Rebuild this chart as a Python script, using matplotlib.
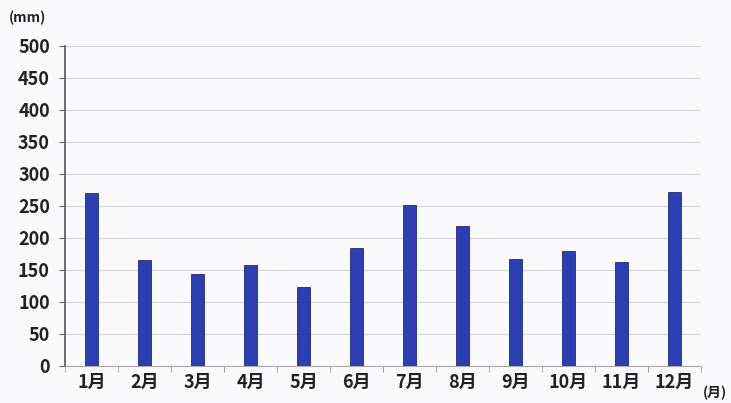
import numpy as np
import matplotlib.pyplot as plt

plt.rcParams['font.family'] = ['Noto Sans CJK JP', 'DejaVu Sans']

# monthly precipitation (mm)
months = ['1月', '2月', '3月', '4月', '5月', '6月', '7月', '8月', '9月', '10月', '11月', '12月']
rain = [270, 166, 144, 158, 123, 184, 252, 219, 167, 180, 162, 272]
yticks = list(range(0, 501, 50))

fig = plt.figure(figsize=(7.31, 4.03), dpi=100)
fig.patch.set_facecolor('#fafafc')
ax = fig.add_axes([0.089, 0.092, 0.870, 0.794])
ax.set_facecolor('#fafafc')

x = np.arange(len(months))
ax.bar(x, rain, width=0.26, color='#2b3fb3', edgecolor='#1d2a80', linewidth=0.6, zorder=3)

ax.set_xlim(-0.5, len(months) - 0.5)
ax.set_ylim(0, 500)
ax.set_yticks(yticks)
ax.set_yticklabels([str(v) for v in yticks], fontsize=13, fontweight='bold', color='#222222')
ax.yaxis.grid(True, color='#d4d4dc', linewidth=0.8, zorder=0)

ax.set_xticks(x)
ax.set_xticklabels(months, fontsize=13, fontweight='bold', color='#222222')
ax.set_xticks(np.arange(-0.5, len(months)), minor=True)
ax.tick_params(axis='x', which='major', length=0, pad=5)
ax.tick_params(axis='x', which='minor', length=4, color='#999999')
ax.tick_params(axis='y', length=4, color='#666666', pad=7)

for s in ['top', 'right']:
    ax.spines[s].set_visible(False)
ax.spines['left'].set_color('#555555')
ax.spines['left'].set_linewidth(1.2)
ax.spines['bottom'].set_color('#aaaaaa')

fig.text(0.012, 0.955, '(mm)', fontsize=10, fontweight='bold', color='#222222', va='center')
fig.text(0.962, 0.025, '(月)', fontsize=10, fontweight='bold', color='#222222', va='center')

fig.savefig('out.png', dpi=100, facecolor=fig.get_facecolor())
